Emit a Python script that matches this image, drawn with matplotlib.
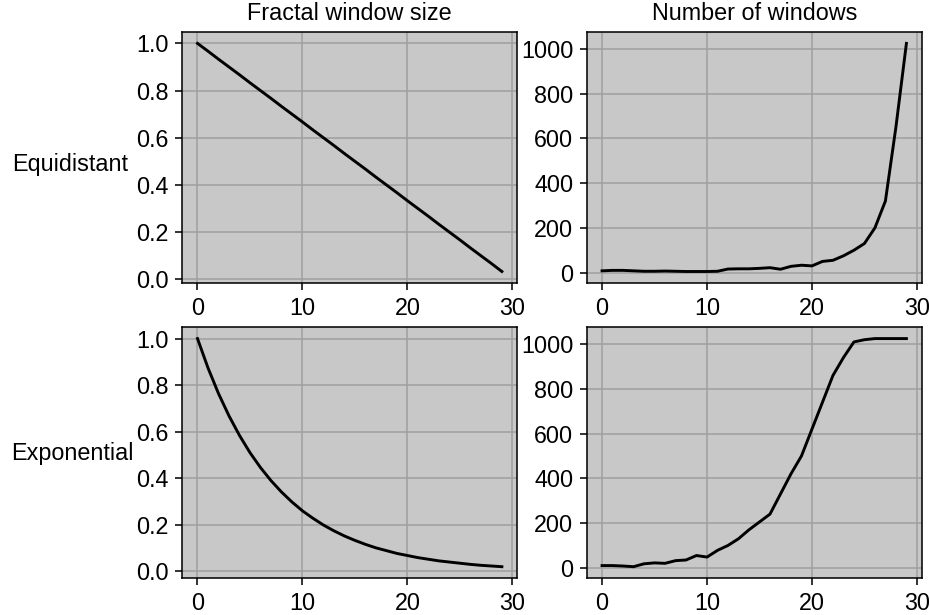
import matplotlib
matplotlib.use("Agg")
import matplotlib.pyplot as plt

plt.rcParams['font.family'] = ['Liberation Sans', 'DejaVu Sans']
plt.rcParams['font.size'] = 12

steps = list(range(30))

# fractal window size per step
equi_size = [1.000, 0.967, 0.933, 0.900, 0.867, 0.833, 0.800, 0.767, 0.733, 0.700,
             0.667, 0.633, 0.600, 0.567, 0.533, 0.500, 0.467, 0.433, 0.400, 0.367,
             0.333, 0.300, 0.267, 0.233, 0.200, 0.167, 0.133, 0.100, 0.067, 0.033]
expo_size = [1.000, 0.874, 0.764, 0.668, 0.584, 0.510, 0.446, 0.390, 0.341, 0.298,
             0.260, 0.228, 0.199, 0.174, 0.152, 0.133, 0.116, 0.101, 0.089, 0.077,
             0.068, 0.059, 0.052, 0.045, 0.040, 0.035, 0.030, 0.026, 0.023, 0.020]

# number of windows per step
equi_count = [8, 10, 10, 8, 6, 6, 7, 6, 5, 5,
              5, 6, 16, 17, 17, 19, 22, 15, 28, 33,
              30, 50, 55, 75, 100, 130, 200, 320, 650, 1024]
expo_count = [10, 10, 8, 5, 18, 22, 20, 32, 35, 55,
              48, 78, 100, 130, 170, 205, 240, 330, 420, 500,
              620, 740, 860, 940, 1010, 1020, 1025, 1025, 1025, 1025]

row_names = ['Equidistant', 'Exponential']
col_titles = ['Fractal window size', 'Number of windows']

fig = plt.figure(figsize=(930 / 140, 615 / 140), dpi=140)
lefts = [0.196, 0.631]
bottoms = [0.540, 0.060]
w, h = 0.360, 0.408

data = [[equi_size, equi_count], [expo_size, expo_count]]
for r in range(2):
    for c in range(2):
        ax = fig.add_axes([lefts[c], bottoms[r], w, h])
        ax.set_facecolor('#c8c8c8')
        ax.grid(True, color='#a0a0a0', linewidth=0.8)
        ax.set_axisbelow(True)
        ax.plot(steps, data[r][c], color='black', linewidth=1.5)
        ax.set_xticks([0, 10, 20, 30])
        if c == 0:
            ax.set_yticks([0.0, 0.2, 0.4, 0.6, 0.8, 1.0])
        else:
            ax.set_yticks([0, 200, 400, 600, 800, 1000])
        if r == 0:
            ax.set_title(col_titles[c], fontsize=12)

fig.text(0.075, 0.732, row_names[0], ha='center', va='center')
fig.text(0.078, 0.262, row_names[1], ha='center', va='center')

fig.savefig('out.png', dpi=140)
